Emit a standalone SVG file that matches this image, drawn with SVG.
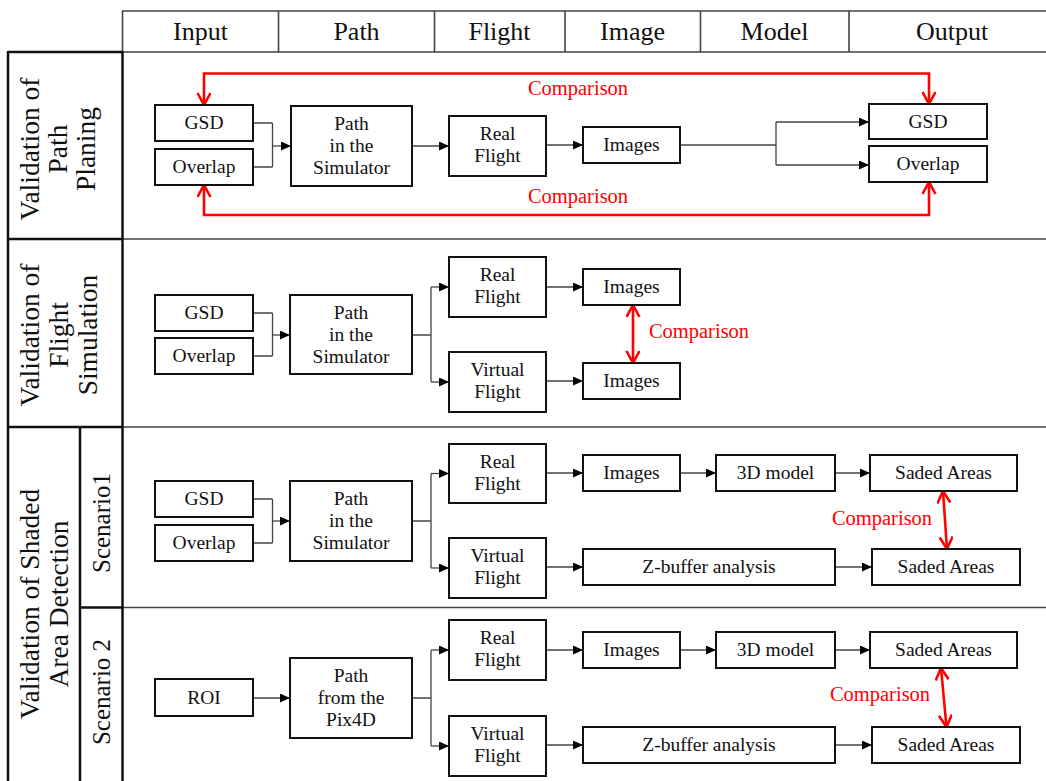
<svg xmlns="http://www.w3.org/2000/svg" width="1046" height="781" viewBox="0 0 1046 781">
<style>
text{font-family:"Liberation Serif","Times New Roman",serif;fill:#111}
.hd{font-size:26px;text-anchor:middle}
.lb{font-size:27.5px;text-anchor:middle}
.sc{font-size:25px;text-anchor:middle}
.nt{font-size:19.5px;text-anchor:middle}
.rt{font-size:20.5px;fill:#ff0000}
.box{fill:#fff;stroke:#111;stroke-width:2}
.thin{stroke:#444;stroke-width:1.6;fill:none}
.thick{stroke:#111;stroke-width:2.5;fill:none}
.cn{stroke:#444;stroke-width:1.3;fill:none}
.ca{stroke:#444;stroke-width:1.3;fill:none;marker-end:url(#ah)}
.red{stroke:#ff0000;stroke-width:2.6;fill:none;marker-start:url(#rh);marker-end:url(#rh)}
</style>
<defs>
<marker id="ah" markerUnits="userSpaceOnUse" markerWidth="11" markerHeight="10" refX="10" refY="4.5" orient="auto"><path d="M0,0 L10,4.5 L0,9 z" fill="#000"/></marker>
<marker id="rh" markerUnits="userSpaceOnUse" markerWidth="16" markerHeight="16" refX="13" refY="7" orient="auto-start-reverse"><path d="M1,0.5 L13,7 L1,13.5" fill="none" stroke="#ff0000" stroke-width="2.6"/></marker>
</defs>
<rect width="1046" height="781" fill="#fff"/>
<g id="table">
<path class="thin" d="M122,11 H1046 M122.5,11 V52 M278.5,11 V52 M434.5,11 V52 M565,11 V52 M700.5,11 V52 M849,11 V52"/>
<path class="thin" d="M122,52 H1046 M122,239 H1046 M122,427 H1046 M122,607.5 H1046"/>
<path class="thick" d="M8,52 H123 M8,239 H123 M8,427 H123 M80,607.5 H123 M8,51 V781 M122.5,51 V781 M80,427 V781"/>
</g>
<g id="header">
<text class="hd" x="200.5" y="40">Input</text>
<text class="hd" x="356.5" y="40">Path</text>
<text class="hd" x="499.5" y="40">Flight</text>
<text class="hd" x="632.5" y="40">Image</text>
<text class="hd" x="774.5" y="40">Model</text>
<text class="hd" x="952" y="40">Output</text>
</g>
<g id="row-labels">
<g id="label-path-planing">
<text class="lb" transform="translate(39,149) rotate(-90)">Validation of</text>
<text class="lb" transform="translate(67,149) rotate(-90)">Path</text>
<text class="lb" transform="translate(95,149) rotate(-90)">Planing</text>
</g>
<g id="label-flight-simulation">
<text class="lb" transform="translate(39,335) rotate(-90)">Validation of</text>
<text class="lb" transform="translate(68,335) rotate(-90)">Flight</text>
<text class="lb" transform="translate(97,335) rotate(-90)">Simulation</text>
</g>
<g id="label-shaded">
<text class="lb" transform="translate(39,604) rotate(-90)">Validation of Shaded</text>
<text class="lb" transform="translate(68,604) rotate(-90)">Area Detection</text>
</g>
<text id="label-scenario1" class="sc" transform="translate(110,523) rotate(-90)">Scenario1</text>
<text id="label-scenario2" class="sc" transform="translate(110,692) rotate(-90)">Scenario 2</text>
</g>
<g id="connectors">
<!-- section 1 -->
<path class="cn" d="M253,123 H272.5 M253,167 H272.5 M272.5,123 V167"/>
<path class="ca" d="M272.5,146 H291"/>
<path class="ca" d="M412,146 H449"/>
<path class="ca" d="M546,145 H583"/>
<path class="cn" d="M680,145 H776 M776,122 V165"/>
<path class="ca" d="M776,122 H869"/>
<path class="ca" d="M776,165 H869"/>
<path class="red" d="M204,105 V73.5 H929 V104"/>
<path class="red" d="M204,185 V215 H929 V182"/>
<!-- section 2 -->
<path class="cn" d="M253,313 H272.5 M253,356 H272.5 M272.5,313 V356"/>
<path class="ca" d="M272.5,335 H290"/>
<path class="cn" d="M412,335 H431 M431,287 V382"/>
<path class="ca" d="M431,287 H449"/>
<path class="ca" d="M431,382 H449"/>
<path class="ca" d="M546,287 H583"/>
<path class="ca" d="M546,381 H583"/>
<path class="red" d="M633,305 V363"/>
<!-- scenario 1 -->
<path class="cn" d="M253,499 H272.5 M253,543 H272.5 M272.5,499 V543"/>
<path class="ca" d="M272.5,521 H290"/>
<path class="cn" d="M412,521 H431 M431,473.5 V568"/>
<path class="ca" d="M431,473.5 H449"/>
<path class="ca" d="M431,568 H449"/>
<path class="ca" d="M546,473 H583"/>
<path class="ca" d="M680,473 H716"/>
<path class="ca" d="M835,473 H870"/>
<path class="ca" d="M546,567 H583"/>
<path class="ca" d="M835,567 H872"/>
<path class="red" d="M943,491 L947,549"/>
<!-- scenario 2 -->
<path class="ca" d="M253,698 H290"/>
<path class="cn" d="M412,698 H431 M431,650 V746"/>
<path class="ca" d="M431,650 H449"/>
<path class="ca" d="M431,746 H449"/>
<path class="ca" d="M546,650 H583"/>
<path class="ca" d="M680,650 H716"/>
<path class="ca" d="M835,650 H870"/>
<path class="ca" d="M546,745 H583"/>
<path class="ca" d="M835,745 H872"/>
<path class="red" d="M941,668 L946.5,727"/>
</g>
<g id="comparison-labels">
<text class="rt" x="578" y="95" text-anchor="middle">Comparison</text>
<text class="rt" x="578" y="203" text-anchor="middle">Comparison</text>
<text class="rt" x="699" y="338" text-anchor="middle">Comparison</text>
<text class="rt" x="882" y="525" text-anchor="middle">Comparison</text>
<text class="rt" x="880" y="701" text-anchor="middle">Comparison</text>
</g>
<!-- section 1 nodes -->
<g id="s1-gsd"><rect class="box" x="155" y="105" width="98" height="36"/><text class="nt" x="204" y="129">GSD</text></g>
<g id="s1-overlap"><rect class="box" x="155" y="149" width="98" height="36"/><text class="nt" x="204" y="173">Overlap</text></g>
<g id="s1-path"><rect class="box" x="291" y="106" width="121" height="80"/><text class="nt" x="351.5" y="130">Path</text><text class="nt" x="351.5" y="152">in the</text><text class="nt" x="351.5" y="174">Simulator</text></g>
<g id="s1-real"><rect class="box" x="449" y="116" width="97" height="60"/><text class="nt" x="497.5" y="140">Real</text><text class="nt" x="497.5" y="162">Flight</text></g>
<g id="s1-images"><rect class="box" x="583" y="127" width="97" height="36"/><text class="nt" x="631.5" y="151">Images</text></g>
<g id="s1-out-gsd"><rect class="box" x="869" y="104" width="118" height="35"/><text class="nt" x="928" y="128">GSD</text></g>
<g id="s1-out-overlap"><rect class="box" x="869" y="146" width="118" height="36"/><text class="nt" x="928" y="170">Overlap</text></g>
<!-- section 2 nodes -->
<g id="s2-gsd"><rect class="box" x="155" y="295" width="98" height="36"/><text class="nt" x="204" y="319">GSD</text></g>
<g id="s2-overlap"><rect class="box" x="155" y="338" width="98" height="36"/><text class="nt" x="204" y="362">Overlap</text></g>
<g id="s2-path"><rect class="box" x="290" y="295" width="122" height="79"/><text class="nt" x="351" y="319">Path</text><text class="nt" x="351" y="341">in the</text><text class="nt" x="351" y="363">Simulator</text></g>
<g id="s2-real"><rect class="box" x="449" y="257" width="97" height="60"/><text class="nt" x="497.5" y="281">Real</text><text class="nt" x="497.5" y="303">Flight</text></g>
<g id="s2-virtual"><rect class="box" x="449" y="352" width="97" height="60"/><text class="nt" x="497.5" y="376">Virtual</text><text class="nt" x="497.5" y="398">Flight</text></g>
<g id="s2-images-real"><rect class="box" x="583" y="269" width="97" height="36"/><text class="nt" x="631.5" y="293">Images</text></g>
<g id="s2-images-virtual"><rect class="box" x="583" y="363" width="97" height="36"/><text class="nt" x="631.5" y="387">Images</text></g>
<!-- scenario 1 nodes -->
<g id="s3-gsd"><rect class="box" x="155" y="481" width="98" height="36"/><text class="nt" x="204" y="505">GSD</text></g>
<g id="s3-overlap"><rect class="box" x="155" y="525" width="98" height="36"/><text class="nt" x="204" y="549">Overlap</text></g>
<g id="s3-path"><rect class="box" x="290" y="481" width="122" height="80"/><text class="nt" x="351" y="505">Path</text><text class="nt" x="351" y="527">in the</text><text class="nt" x="351" y="549">Simulator</text></g>
<g id="s3-real"><rect class="box" x="449" y="444" width="97" height="59"/><text class="nt" x="497.5" y="468">Real</text><text class="nt" x="497.5" y="490">Flight</text></g>
<g id="s3-virtual"><rect class="box" x="449" y="538" width="97" height="60"/><text class="nt" x="497.5" y="562">Virtual</text><text class="nt" x="497.5" y="584">Flight</text></g>
<g id="s3-images"><rect class="box" x="583" y="455" width="97" height="36"/><text class="nt" x="631.5" y="479">Images</text></g>
<g id="s3-3d"><rect class="box" x="716" y="455" width="119" height="36"/><text class="nt" x="775.5" y="479">3D model</text></g>
<g id="s3-saded-real"><rect class="box" x="870" y="455" width="147" height="36"/><text class="nt" x="943.5" y="479">Saded Areas</text></g>
<g id="s3-zbuffer"><rect class="box" x="583" y="549" width="252" height="36"/><text class="nt" x="709" y="573">Z-buffer analysis</text></g>
<g id="s3-saded-virtual"><rect class="box" x="872" y="549" width="148" height="36"/><text class="nt" x="946" y="573">Saded Areas</text></g>
<!-- scenario 2 nodes -->
<g id="s4-roi"><rect class="box" x="155" y="679" width="98" height="37"/><text class="nt" x="204" y="704">ROI</text></g>
<g id="s4-path"><rect class="box" x="290" y="658" width="122" height="80"/><text class="nt" x="351" y="682">Path</text><text class="nt" x="351" y="704">from the</text><text class="nt" x="351" y="726">Pix4D</text></g>
<g id="s4-real"><rect class="box" x="449" y="620" width="97" height="60"/><text class="nt" x="497.5" y="644">Real</text><text class="nt" x="497.5" y="666">Flight</text></g>
<g id="s4-virtual"><rect class="box" x="449" y="716" width="97" height="60"/><text class="nt" x="497.5" y="740">Virtual</text><text class="nt" x="497.5" y="762">Flight</text></g>
<g id="s4-images"><rect class="box" x="583" y="632" width="97" height="36"/><text class="nt" x="631.5" y="656">Images</text></g>
<g id="s4-3d"><rect class="box" x="716" y="632" width="119" height="36"/><text class="nt" x="775.5" y="656">3D model</text></g>
<g id="s4-saded-real"><rect class="box" x="870" y="632" width="147" height="36"/><text class="nt" x="943.5" y="656">Saded Areas</text></g>
<g id="s4-zbuffer"><rect class="box" x="583" y="727" width="252" height="36"/><text class="nt" x="709" y="751">Z-buffer analysis</text></g>
<g id="s4-saded-virtual"><rect class="box" x="872" y="727" width="148" height="36"/><text class="nt" x="946" y="751">Saded Areas</text></g>
</svg>
